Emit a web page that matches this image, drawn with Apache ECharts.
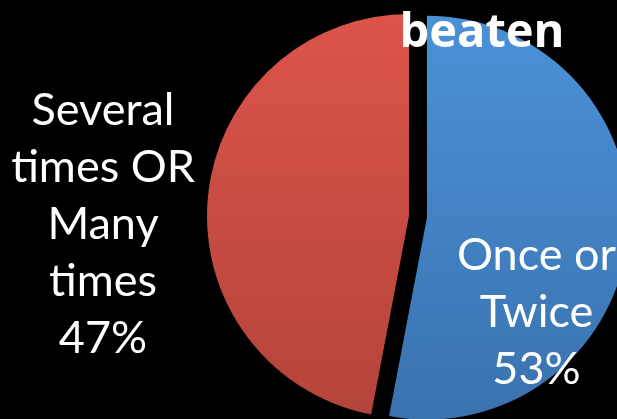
<!DOCTYPE html>
<html>
<head>
<meta charset="utf-8">
<script src="https://cdn.jsdelivr.net/npm/echarts@6/dist/echarts.min.js"></script>
<style>
  html, body { margin: 0; padding: 0; background: #000; }
  #chart { width: 617px; height: 419px; }
</style>
</head>
<body>
<div id="chart"></div>
<script>
// Answer categories (line breaks are where the labels wrap) and their shares in percent
const categories = ['Once or\nTwice', 'Several\ntimes OR\nMany\ntimes'];
const shares = [53, 47];
const titleText = 'beaten';

// Slice fills: lighter at the top, darker at the bottom
const fills = [
  ['#4b91d8', '#3a72ae'],
  ['#db544b', '#b4443b']
];

const chart = echarts.init(document.getElementById('chart'), null, { renderer: 'canvas' });

chart.setOption({
  backgroundColor: '#000000',
  animation: false,
  title: {
    text: titleText,
    left: 477,
    top: 5,
    textAlign: 'center',
    textStyle: {
      color: '#ffffff',
      fontFamily: 'Open Sans',
      fontWeight: 'bold',
      fontSize: 47
    }
  },
  series: [{
    type: 'pie',
    center: [409, 216],
    radius: 202,
    startAngle: 90,
    clockwise: true,
    selectedMode: 'multiple',
    selectedOffset: 18,
    emphasis: { disabled: true },
    label: {
      show: true,
      position: 'inside',
      // the blue slice's label starts lower inside its slice, hence the leading blank lines
      formatter: p => (p.dataIndex === 0 ? '\n\n\n' : '') + p.name + '\n' + p.percent.toFixed(0) + '%',
      color: '#ffffff',
      fontFamily: 'Lato',
      fontSize: 45,
      lineHeight: 57,
      align: 'center'
    },
    labelLine: { show: false },
    // The left-hand label sits outside the pie, to the left of the red slice
    labelLayout: params => params.dataIndex === 1
      ? { x: 103, y: 224, align: 'center', verticalAlign: 'middle' }
      : {},
    data: categories.map((name, i) => ({
      name: name,
      value: shares[i],
      selected: i === 0,
      label: i === 0 ? { padding: [0, 0, 0, 12] } : {},
      select: i === 0 ? { label: { padding: [0, 0, 0, 12] } } : {},
      itemStyle: {
        color: new echarts.graphic.LinearGradient(0, 0, 0, 1, [
          { offset: 0, color: fills[i][0] },
          { offset: 1, color: fills[i][1] }
        ])
      }
    }))
  }]
});
</script>
</body>
</html>
